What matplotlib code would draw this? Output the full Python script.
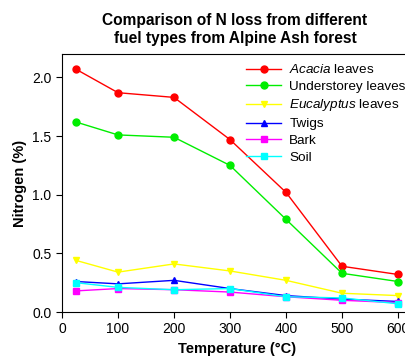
import numpy as np
import matplotlib
matplotlib.use("Agg")
import matplotlib.pyplot as plt

plt.rcParams['font.family'] = ['Liberation Sans', 'DejaVu Sans']
plt.rcParams['mathtext.fontset'] = 'custom'
plt.rcParams['mathtext.rm'] = 'Liberation Sans'
plt.rcParams['mathtext.it'] = 'Liberation Sans:italic'

temperature = [25, 100, 200, 300, 400, 500, 600]
acacia = [2.07, 1.87, 1.83, 1.47, 1.02, 0.39, 0.32]
understorey = [1.62, 1.51, 1.49, 1.25, 0.79, 0.33, 0.26]
eucalyptus = [0.44, 0.34, 0.41, 0.35, 0.27, 0.16, 0.14]
twigs = [0.26, 0.24, 0.27, 0.20, 0.14, 0.11, 0.09]
bark = [0.18, 0.20, 0.19, 0.17, 0.13, 0.10, 0.08]
soil = [0.25, 0.21, 0.19, 0.20, 0.13, 0.12, 0.07]

fig = plt.figure(figsize=(4.06, 3.59), dpi=100)
ax = fig.add_axes([0.1527, 0.1309, 0.8966, 0.7187])

series = [
    (acacia, 'red', 'o', r'$\it{Acacia}$ leaves'),
    (understorey, '#00ee00', 'o', 'Understorey leaves'),
    (eucalyptus, 'yellow', 'v', r'$\it{Eucalyptus}$ leaves'),
    (twigs, 'blue', '^', 'Twigs'),
    (bark, 'magenta', 's', 'Bark'),
    (soil, 'cyan', 's', 'Soil'),
]
for vals, col, mk, lab in series:
    ax.plot(temperature, vals, color=col, marker=mk, markersize=5, linewidth=1, label=lab)

ax.set_xlim(0, 650)
ax.set_ylim(0, 2.2)
ax.set_xticks(range(0, 601, 100))
ax.set_yticks(np.arange(0, 2.01, 0.5))
ax.set_yticklabels(['0.0', '0.5', '1.0', '1.5', '2.0'])
ax.tick_params(direction='out', labelsize=10, length=4)
ax.set_xlabel('Temperature (°C)', fontsize=10.5, fontweight='bold', labelpad=4, x=0.482)
ax.set_ylabel('Nitrogen (%)', fontsize=10.5, fontweight='bold')
ax.set_title('Comparison of N loss from different\nfuel types from Alpine Ash forest',
             fontsize=11.2, fontweight='bold', pad=8, x=0.475)
leg = ax.legend(loc='upper left', bbox_to_anchor=(0.48, 1.0), frameon=False, fontsize=9.7,
                handlelength=2.6, labelspacing=0.32, borderaxespad=0.3, handletextpad=0.6)

fig.savefig('out.png', dpi=100)
